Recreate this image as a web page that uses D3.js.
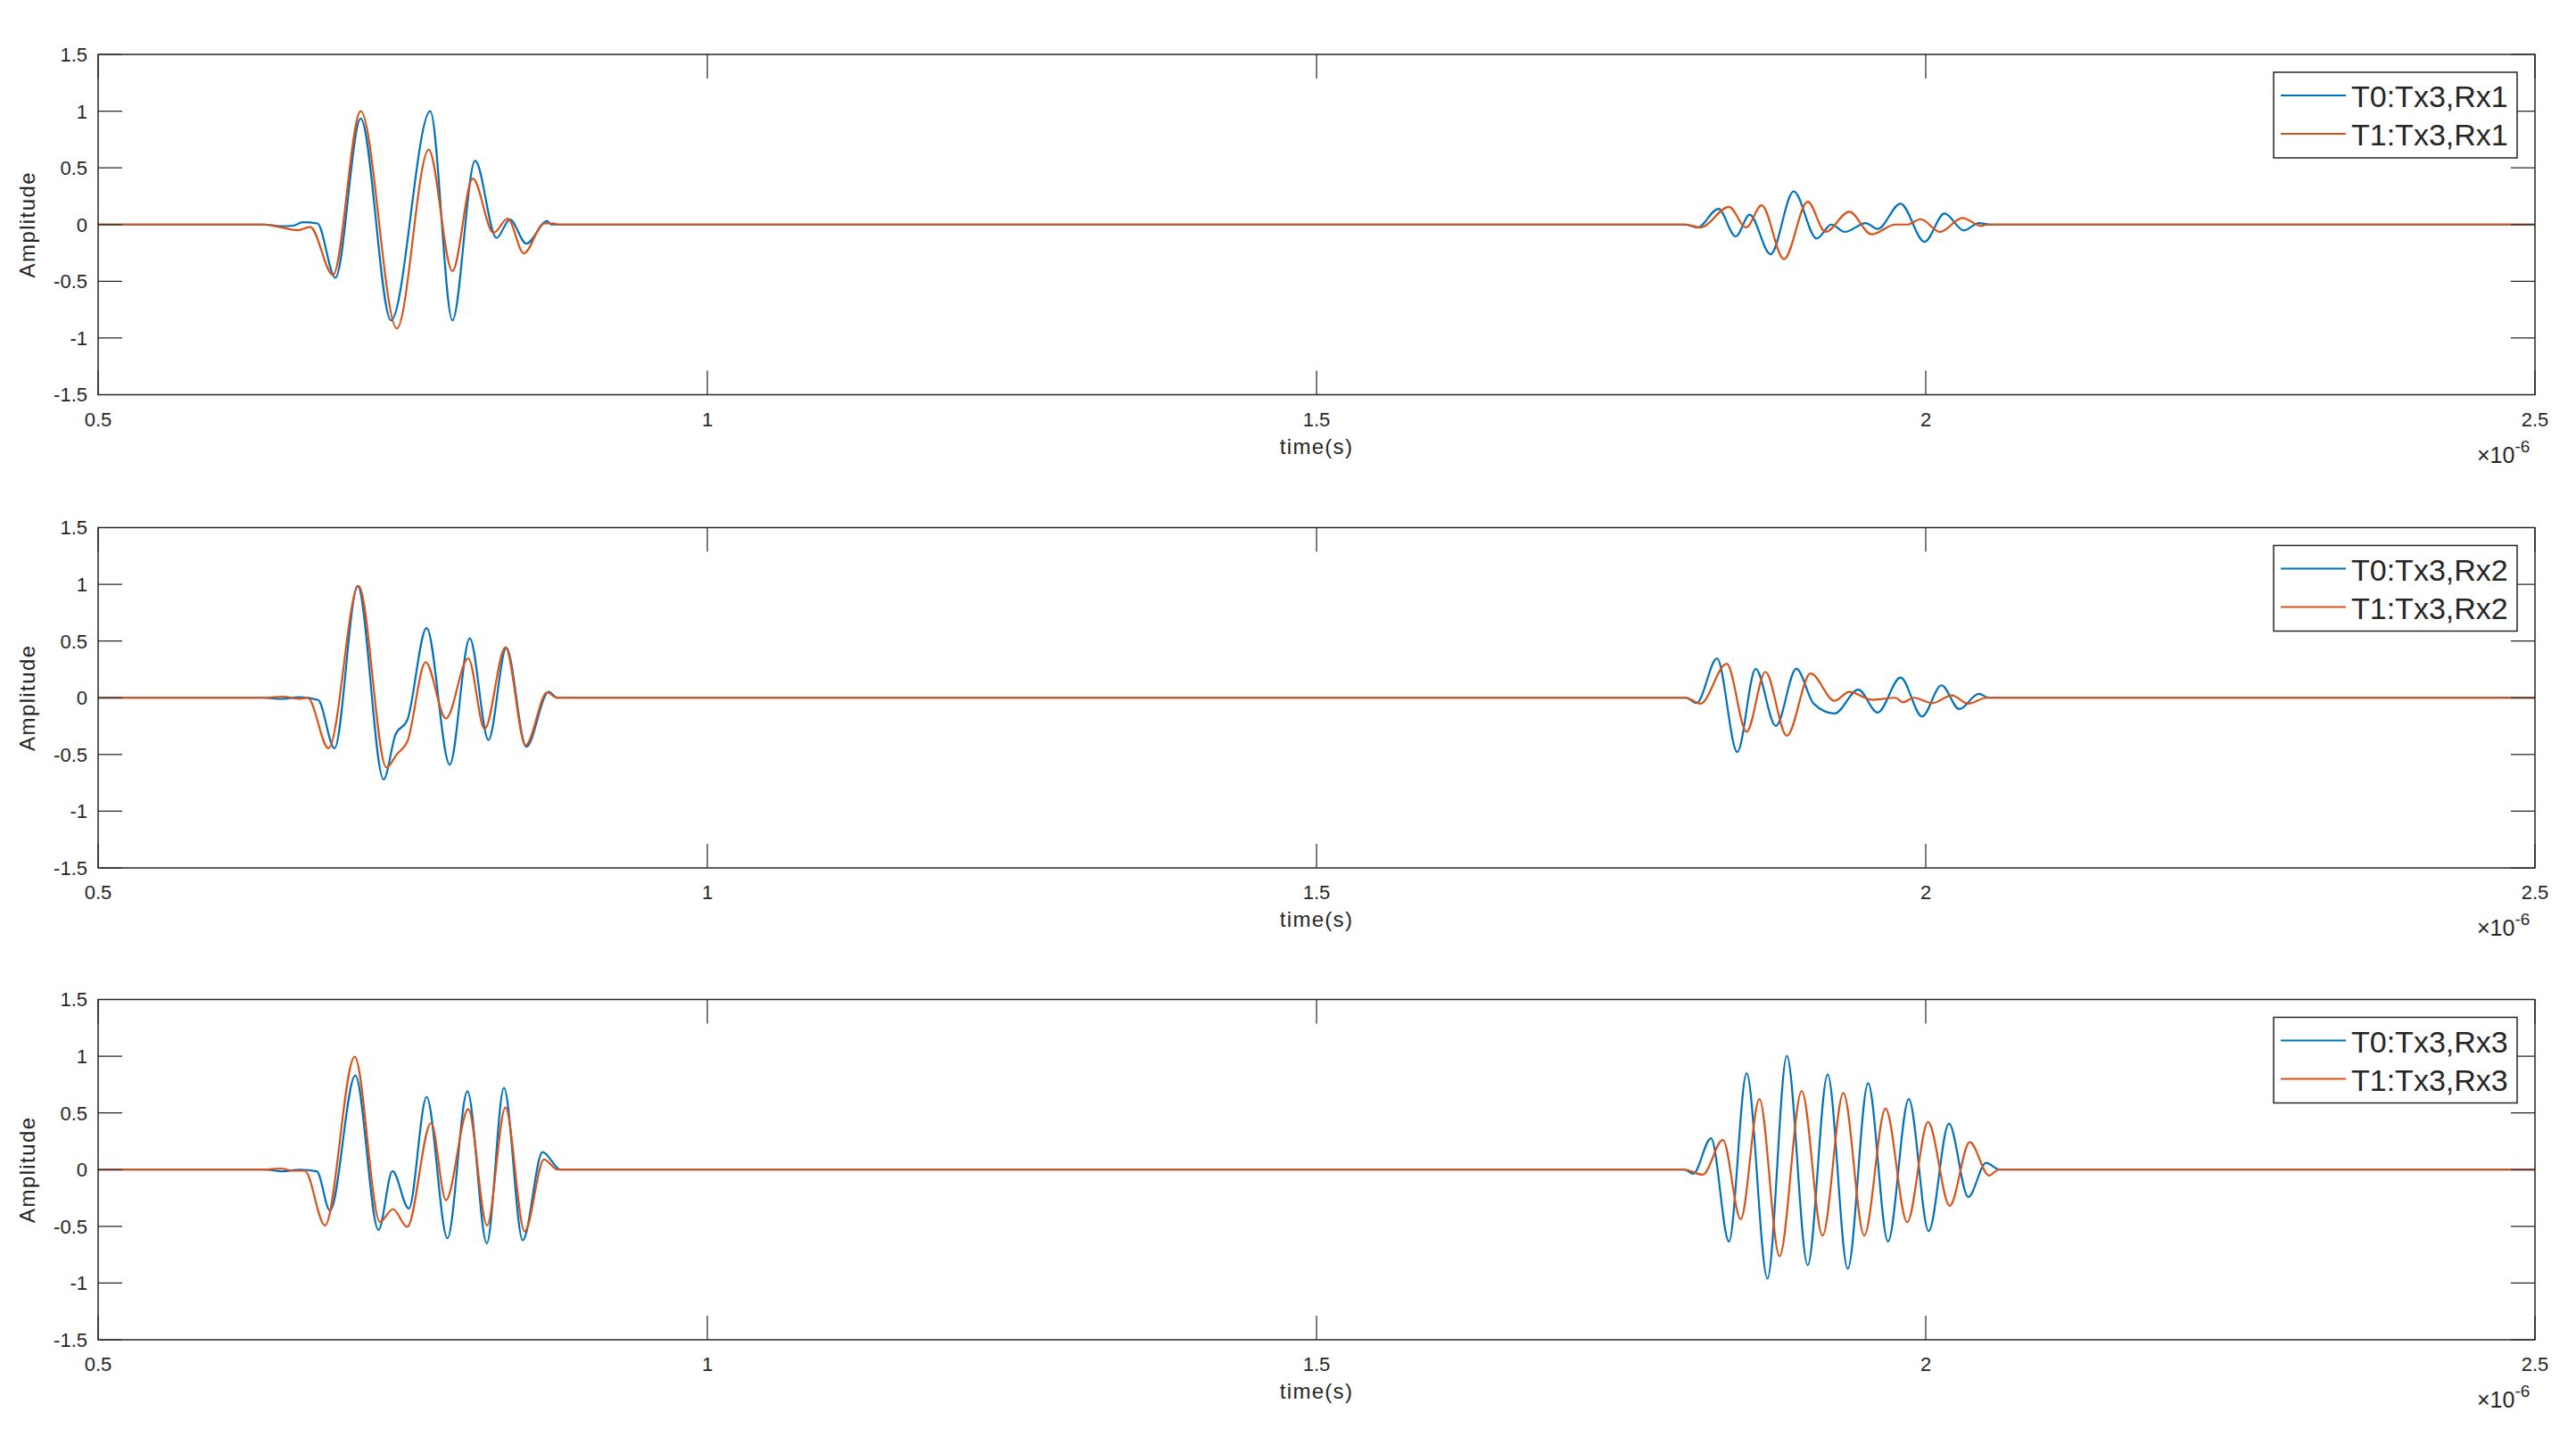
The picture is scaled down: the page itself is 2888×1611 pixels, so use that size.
<!DOCTYPE html>
<html>
<head>
<meta charset="utf-8">
<script src="https://cdn.jsdelivr.net/npm/d3@7"></script>
<style>
  body { margin: 0; background: #fff; }
  text { font-family: "Liberation Sans", Arial, sans-serif; fill: #262626; }
</style>
</head>
<body>
<svg id="main-svg" width="2888" height="1611"></svg>
<script>
// time axis is in units of 1e-6 s
var timeTicks = [0.5, 1, 1.5, 2, 2.5];
var ampTicks = [-1.5, -1, -0.5, 0, 0.5, 1, 1.5];

var legendRx1 = ["T0:Tx3,Rx1", "T1:Tx3,Rx1"];
var legendRx2 = ["T0:Tx3,Rx2", "T1:Tx3,Rx2"];
var legendRx3 = ["T0:Tx3,Rx3", "T1:Tx3,Rx3"];

// [time, amplitude] turning points
var t0Rx1 = [[0.5,0],[0.636,0],[0.650,-0.015],[0.660,-0.01],[0.668,0.02],[0.680,0.01],[0.6947,-0.47],[0.7155,0.935],[0.7404,-0.845],
  [0.7726,1.0],[0.7908,-0.845],[0.8094,0.563],[0.827,-0.118],[0.838,0.045],[0.8514,-0.168],[0.8685,0.03],[0.872,0],
  [1.803,0],[1.8126,-0.026],[1.8299,0.139],[1.844,-0.105],[1.8555,0.087],[1.8726,-0.262],[1.8916,0.293],[1.9104,-0.123],
  [1.9226,0.0],[1.9336,-0.065],[1.9507,0.013],[1.9605,-0.039],[1.9793,0.184],[1.999,-0.152],[2.0154,0.097],[2.0313,-0.052],
  [2.0435,0.013],[2.0524,0],[2.5,0]];
var t1Rx1 = [[0.5,0],[0.636,0],[0.648,-0.02],[0.664,-0.05],[0.674,-0.02],[0.6928,-0.445],[0.7155,1.0],[0.7452,-0.916],
  [0.7713,0.66],[0.7908,-0.41],[0.8075,0.406],[0.8245,-0.073],[0.8362,0.053],[0.8494,-0.254],[0.866,0.01],[0.875,0.01],[0.877,0],
  [1.803,0],[1.815,-0.026],[1.8385,0.157],[1.8526,-0.026],[1.8653,0.17],[1.8836,-0.306],[1.9031,0.202],[1.9177,-0.065],
  [1.9372,0.113],[1.9555,-0.086],[1.975,0],[1.985,0],[1.9958,0.047],[2.0117,-0.065],[2.03,0.058],[2.0459,-0.013],[2.05,0],[2.5,0]];

var t0Rx2 = [[0.5,0],[0.636,0],[0.650,-0.01],[0.665,0.005],[0.6806,-0.02],[0.694,-0.445],[0.713,0.987],[0.7343,-0.72],
  [0.744,-0.327],[0.7538,-0.196],[0.7696,0.615],[0.7886,-0.589],[0.805,0.524],[0.8204,-0.372],[0.835,0.44],[0.8514,-0.432],
  [0.8697,0.052],[0.877,0],
  [1.803,0],[1.8119,-0.047],[1.8287,0.346],[1.8453,-0.479],[1.8604,0.254],[1.877,-0.249],[1.8938,0.257],[1.908,-0.052],
  [1.9251,-0.139],[1.9446,0.071],[1.9605,-0.131],[1.9793,0.178],[1.997,-0.165],[2.0129,0.11],[2.0275,-0.1],[2.0435,0.034],
  [2.052,0],[2.5,0]];
var t1Rx2 = [[0.5,0],[0.636,0],[0.652,0.01],[0.665,-0.01],[0.672,0.0],[0.6891,-0.445],[0.7138,0.987],[0.7366,-0.615],
  [0.745,-0.50],[0.754,-0.38],[0.7688,0.314],[0.7855,-0.183],[0.8038,0.348],[0.8172,-0.275],[0.8343,0.445],[0.8509,-0.419],
  [0.8685,0.047],[0.877,0],
  [1.803,0],[1.815,-0.052],[1.8367,0.3],[1.853,-0.3],[1.8684,0.228],[1.886,-0.335],[1.9055,0.215],[1.9251,-0.026],
  [1.9372,0.052],[1.956,-0.018],[1.975,0],[1.9815,-0.04],[1.99,0],[2.0055,-0.047],[2.0214,0.021],[2.0348,-0.052],[2.05,0],[2.5,0]];

var t0Rx3 = [[0.5,0],[0.636,0],[0.652,-0.015],[0.665,0.0],[0.6795,-0.015],[0.6903,-0.361],[0.7111,0.83],[0.7301,-0.531],
  [0.7416,-0.013],[0.755,-0.343],[0.7696,0.641],[0.7867,-0.605],[0.8031,0.691],[0.819,-0.649],[0.8331,0.72],[0.8485,-0.623],
  [0.8648,0.154],[0.8794,0],
  [1.802,0],[1.8091,-0.037],[1.8238,0.277],[1.8385,-0.634],[1.853,0.851],[1.8701,-0.961],[1.886,1.003],[1.9031,-0.843],
  [1.9195,0.838],[1.936,-0.874],[1.9527,0.762],[1.969,-0.634],[1.9861,0.623],[2.0024,-0.542],[2.019,0.406],[2.0349,-0.241],
  [2.0495,0.06],[2.0605,0],[2.5,0]];
var t1Rx3 = [[0.5,0],[0.636,0],[0.650,0.01],[0.660,-0.01],[0.6696,-0.01],[0.6862,-0.492],[0.7106,0.995],[0.7313,-0.461],
  [0.742,-0.348],[0.7537,-0.505],[0.7733,0.411],[0.7855,-0.27],[0.8038,0.534],[0.8192,-0.492],[0.8343,0.547],[0.8501,-0.545],
  [0.866,0.089],[0.877,0],
  [1.802,0],[1.817,-0.045],[1.8335,0.262],[1.8481,-0.437],[1.8635,0.623],[1.88,-0.764],[1.8982,0.694],[1.9153,-0.581],
  [1.9324,0.675],[1.9495,-0.581],[1.967,0.537],[1.9848,-0.463],[2.0019,0.419],[2.0197,-0.319],[2.0361,0.243],[2.052,-0.052],
  [2.06,0],[2.5,0]];

var panels = [
  { top: 61,     t0: t0Rx1, t1: t1Rx1, legend: legendRx1 },
  { top: 591.5,  t0: t0Rx2, t1: t1Rx2, legend: legendRx2 },
  { top: 1120.5, t0: t0Rx3, t1: t1Rx3, legend: legendRx3 }
];

var svg = d3.select("#main-svg");
var left = 110, right = 2842, plotH = 381.5, tickLen = 27;
var axisColor = "#262626";
var colors = ["#0072BD", "#D95319"];

var x = d3.scaleLinear().domain([0.5, 2.5]).range([left, right]);

panels.forEach(function(p) {
  var y = d3.scaleLinear().domain([-1.5, 1.5]).range([p.top + plotH, p.top]);
  var g = svg.append("g");

  var line = d3.line()
      .x(function(d) { return x(d[0]); })
      .y(function(d) { return y(d[1]); })
      .curve(d3.curveMonotoneX);

  // traces
  [p.t0, p.t1].forEach(function(s, i) {
    g.append("path")
      .datum(s)
      .attr("d", line)
      .attr("fill", "none")
      .attr("stroke", colors[i])
      .attr("stroke-width", 2.2)
      .attr("stroke-linejoin", "round");
  });

  // box + inward ticks on all four sides
  var bottom = p.top + plotH;
  g.append("rect")
    .attr("x", left).attr("y", p.top)
    .attr("width", right - left).attr("height", plotH)
    .attr("fill", "none").attr("stroke", axisColor).attr("stroke-width", 1.5);

  g.selectAll(".xt").data(timeTicks).enter().append("path")
    .attr("d", function(d) {
      return "M" + x(d) + "," + bottom + "v" + (-tickLen) + "M" + x(d) + "," + p.top + "v" + tickLen;
    })
    .attr("stroke", axisColor).attr("stroke-width", 1.2);

  g.selectAll(".yt").data(ampTicks).enter().append("path")
    .attr("d", function(d) {
      return "M" + left + "," + y(d) + "h" + tickLen + "M" + right + "," + y(d) + "h" + (-tickLen);
    })
    .attr("stroke", axisColor).attr("stroke-width", 1.2);

  g.selectAll(".xl").data(timeTicks).enter().append("text")
    .attr("x", function(d) { return x(d); })
    .attr("y", bottom + 35)
    .attr("text-anchor", "middle")
    .style("font-size", "22px")
    .text(function(d) { return d; });

  g.selectAll(".yl").data(ampTicks).enter().append("text")
    .attr("x", left - 12)
    .attr("y", function(d) { return y(d); })
    .attr("dy", "0.36em")
    .attr("text-anchor", "end")
    .style("font-size", "22px")
    .text(function(d) { return d; });

  // axis labels
  g.append("text")
    .attr("x", (left + right) / 2)
    .attr("y", bottom + 66)
    .attr("text-anchor", "middle")
    .style("font-size", "24px")
    .style("letter-spacing", "1.3px")
    .text("time(s)");

  g.append("text")
    .attr("transform", "translate(39," + (p.top + plotH / 2) + ") rotate(-90)")
    .attr("text-anchor", "middle")
    .style("font-size", "24px")
    .style("letter-spacing", "1.4px")
    .text("Amplitude");

  // x10^-6 exponent
  var ex = g.append("text")
    .attr("x", 2777)
    .attr("y", bottom + 76)
    .style("font-size", "25px");
  ex.append("tspan").text("\u00d710");
  ex.append("tspan").attr("dy", -12).style("font-size", "19px").text("-6");

  // legend
  var lx = right - 20 - 273, ly = p.top + 20;
  var leg = g.append("g");
  leg.append("rect")
    .attr("x", lx).attr("y", ly).attr("width", 273).attr("height", 96)
    .attr("fill", "#fff").attr("stroke", axisColor).attr("stroke-width", 1.5);
  p.legend.forEach(function(name, i) {
    leg.append("line")
      .attr("x1", lx + 8).attr("x2", lx + 81)
      .attr("y1", ly + 26 + i * 43).attr("y2", ly + 26 + i * 43)
      .attr("stroke", colors[i]).attr("stroke-width", 2);
    leg.append("text")
      .attr("x", lx + 87)
      .attr("y", ly + 39 + i * 43)
      .style("font-size", "34px")
      .text(name);
  });
});
</script>
</body>
</html>
